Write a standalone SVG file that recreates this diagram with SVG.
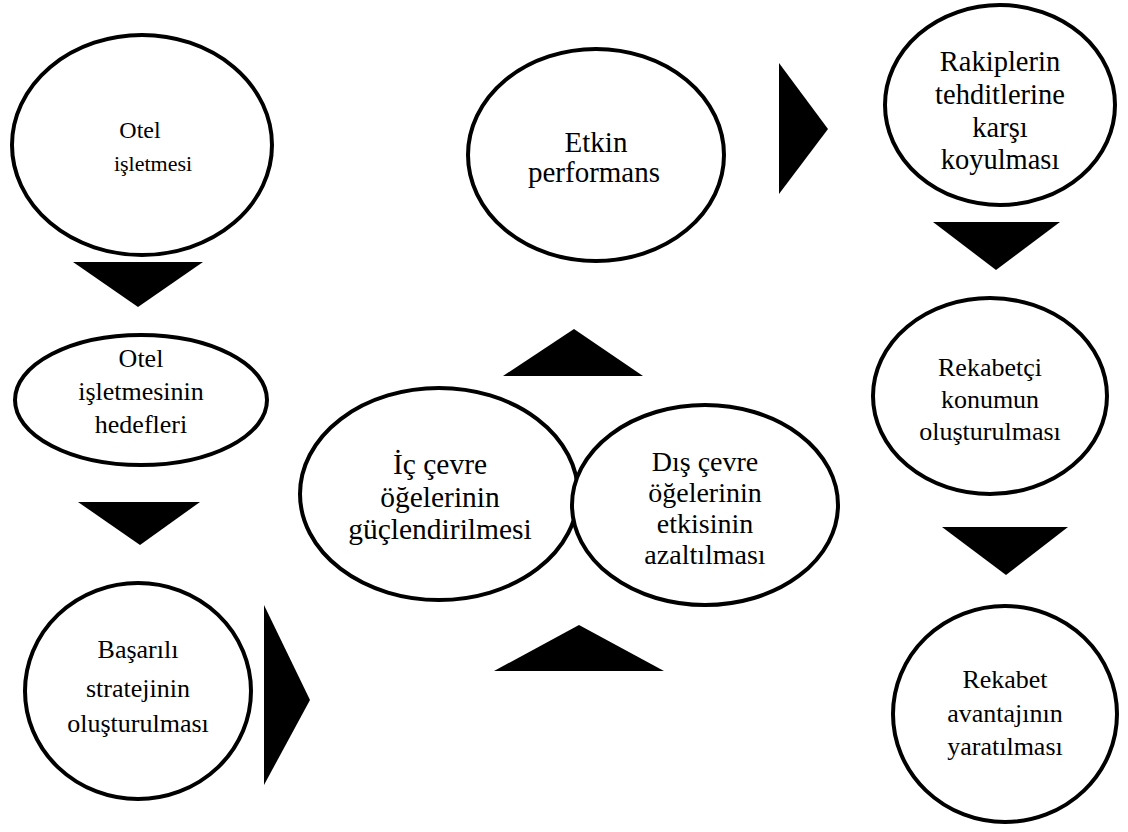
<svg xmlns="http://www.w3.org/2000/svg" width="1128" height="832" viewBox="0 0 1128 832">
  <style>
    .node ellipse { fill: #ffffff; stroke: #000000; stroke-width: 4; }
    .node text { fill: #000000; text-anchor: middle; }
    .arrow { fill: #000000; stroke: none; }
  </style>
  <rect width="1128" height="832" fill="#ffffff"/>

  <!-- flow arrows (solid triangles) -->
  <g id="connectors">
    <polygon class="arrow" points="73,262 203,262 138,307"/>
    <polygon class="arrow" points="78,502 200,502 140,545"/>
    <polygon class="arrow" points="264,605 310,700 264,785"/>
    <polygon class="arrow" points="503,376 643,376 574,329"/>
    <polygon class="arrow" points="494,671 664,671 579,625"/>
    <polygon class="arrow" points="779,63 828,129 779,194"/>
    <polygon class="arrow" points="933,222 1060,222 996,270"/>
    <polygon class="arrow" points="942,527 1068,527 1006,575"/>
  </g>

  <g font-family="'Liberation Serif', 'Times New Roman', 'DejaVu Serif', serif">
    <g id="otel-isletmesi" class="node">
      <ellipse cx="142" cy="145" rx="130" ry="110"/>
      <text font-size="24"><tspan x="140" y="138">Otel</tspan><tspan x="153" y="171" font-size="22">işletmesi</tspan></text>
    </g>

    <g id="otel-hedefleri" class="node">
      <ellipse cx="141" cy="400" rx="126" ry="65"/>
      <text font-size="26"><tspan x="141" y="367">Otel</tspan><tspan x="141" y="400">işletmesinin</tspan><tspan x="141" y="433">hedefleri</tspan></text>
    </g>

    <g id="basarili-strateji" class="node">
      <ellipse cx="138" cy="691" rx="113" ry="108"/>
      <text font-size="26"><tspan x="138" y="658">Başarılı</tspan><tspan x="138" y="697">stratejinin</tspan><tspan x="138" y="732">oluşturulması</tspan></text>
    </g>

    <g id="etkin-performans" class="node">
      <ellipse cx="596" cy="155" rx="128" ry="106"/>
      <text font-size="29"><tspan x="596" y="152">Etkin</tspan><tspan x="594" y="182">performans</tspan></text>
    </g>

    <g id="ic-cevre" class="node">
      <ellipse cx="439" cy="494" rx="139" ry="106"/>
      <text font-size="29.5"><tspan x="440" y="474">İç çevre</tspan><tspan x="440" y="507">öğelerinin</tspan><tspan x="440" y="539">güçlendirilmesi</tspan></text>
    </g>

    <g id="dis-cevre" class="node">
      <ellipse cx="705" cy="505" rx="133" ry="100"/>
      <text font-size="28"><tspan x="705" y="471">Dış çevre</tspan><tspan x="705" y="502">öğelerinin</tspan><tspan x="705" y="533">etkisinin</tspan><tspan x="705" y="564">azaltılması</tspan></text>
    </g>

    <g id="rakip-tehditleri" class="node">
      <ellipse cx="1000" cy="105" rx="115" ry="100"/>
      <text font-size="28.5"><tspan x="1000" y="71">Rakiplerin</tspan><tspan x="1000" y="104">tehditlerine</tspan><tspan x="1000" y="137">karşı</tspan><tspan x="1000" y="169">koyulması</tspan></text>
    </g>

    <g id="rekabetci-konum" class="node">
      <ellipse cx="990" cy="396" rx="117" ry="98"/>
      <text font-size="26"><tspan x="990" y="376">Rekabetçi</tspan><tspan x="990" y="408">konumun</tspan><tspan x="990" y="440">oluşturulması</tspan></text>
    </g>

    <g id="rekabet-avantaji" class="node">
      <ellipse cx="1005" cy="714" rx="112" ry="108"/>
      <text font-size="26"><tspan x="1005" y="688">Rekabet</tspan><tspan x="1005" y="722">avantajının</tspan><tspan x="1005" y="755">yaratılması</tspan></text>
    </g>
  </g>
</svg>
